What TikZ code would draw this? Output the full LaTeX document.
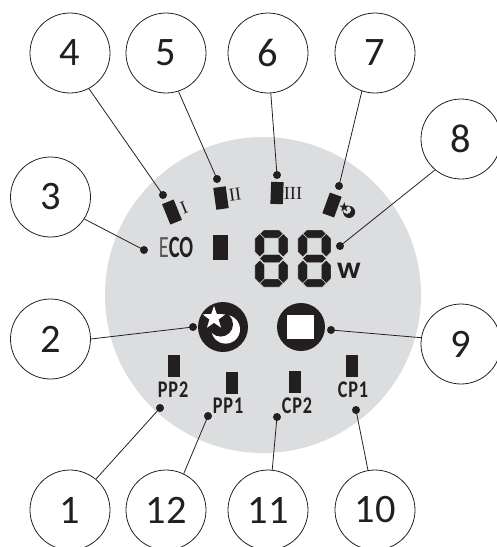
\documentclass[tikz,border=0pt]{standalone}
\usepackage{fontspec}
\setmainfont{Carlito}
\newfontfamily\labelfont[FakeStretch=0.76,LetterSpace=4]{Carlito}
\newfontfamily\ecofont[FakeStretch=0.66]{Carlito}
\newfontfamily\romanfont{Liberation Serif}
\usetikzlibrary{calc}
\definecolor{ink}{RGB}{35,31,32}
\definecolor{panel}{RGB}{220,221,223}
\tikzset{
  num/.style={circle,draw=ink,line width=0.45pt,minimum size=16mm,inner sep=0pt,
    text=ink,font=\fontsize{23}{26}\selectfont},
  dot/.style={circle,fill=ink,minimum size=1.6mm,inner sep=0pt},
  lead/.style={draw=ink,line width=0.45pt},
  bar/.style={fill=ink,minimum width=2.5mm,minimum height=4.4mm,inner sep=0pt},
  tag/.style={text=ink,inner sep=0pt,font=\labelfont\bfseries\fontsize{13.6}{15}\selectfont},
  speed/.style={text=ink,inner sep=0pt,font=\romanfont\fontsize{10.5}{12}\selectfont},
  % pictograms
  pics/seg/.style={code={
    \foreach \y in {0,24.5,49}
      \filldraw[fill=ink,draw=panel,line width=0.25pt] (4.5,\y+4) -- (8.5,\y) -- (24.5,\y) -- (28.5,\y+4) -- (24.5,\y+8) -- (8.5,\y+8) -- cycle;
    \foreach \x in {0,23.5} \foreach \y in {3.5,30}
      \filldraw[fill=ink,draw=panel,line width=0.25pt] (\x+4.75,\y) -- (\x+9.5,\y+4.75) -- (\x+9.5,\y+18.75) -- (\x+4.75,\y+23.5) -- (\x,\y+18.75) -- (\x,\y+4.75) -- cycle;
  }},
  pics/moonstar/.style n args={3}{code={
    \fill[#1] (2.7,2.3) circle (14.3);
    \fill[#2] (-2.3,-2.7) circle (#3);
    \begin{scope}[shift={(-9,-9)}]
      \fill[#1] (-90:12) -- (-54:4.8) -- (-18:12) -- (18:4.8) -- (54:12) -- (90:4.8) -- (126:12) -- (162:4.8) -- (198:12) -- (234:4.8) -- cycle;
    \end{scope}
  }},
}
\begin{document}
\begin{tikzpicture}[x=0.2mm,y=-0.2mm]
    \clip (0,0) rectangle (497,547);
    \fill[panel] (263,295) circle (158);
    % numbered circles
    \foreach \n/\x/\y in {1/70/510,2/50.5/339,3/50.5/197,4/70/53,5/166/53,6/268/53,
      7/375/53,8/461/139,9/461/344,10/375/510,11/268/510,12/166/510}
      \node[num] (c\n) at (\x,\y) {\n};
    % leader lines
    \foreach \n/\x/\y/\a in {1/160/408/50,2/193/327/0,3/144/250/327,4/163/195/298,5/217/179/288,
      6/277/175/274,7/339/186/251,8/340/246/230,9/331/330/171,10/356/410/100,11/277/417/84,12/208/416/64}
    {
      \node[dot] (d\n) at (\x,\y) {};
      \draw[lead] (c\n.\a) -- (d\n.center);
    }
    % bars
    \foreach \n/\x/\y/\r in {fan1/172/212/22,fan2/221/198/8,fan3/277/193/-2,night/332/205/-20,
      pp2/174/366/0,pp1/232/383/0,cp2/295/382/0,cp1/352/366/0}
      \node[bar,rotate=\r] (b\n) at (\x,\y) {};
    \node[bar,minimum width=3mm,minimum height=5mm] (bmid) at (221,247) {};
    % texts
    \node[speed,rotate=22] (mfan1) at (184,208) {I};
    \node[speed,rotate=8] (mfan2) at (235,195) {II};
    \node[speed] (mfan3) at (293,193) {III};
    \foreach \n/\x/\y/\t in {pp2/173/390/PP2,pp1/228/406/PP1,cp2/297/406/CP2,cp1/353/390/CP1}
      \node[tag] (t\n) at (\x,\y) {\t};
    \node[text=ink,inner sep=0pt,font=\ecofont\fontsize{17.6}{20}\selectfont] (eco) at (176,247) {{\color{ink!75}E}\textbf{CO}};
    \node[text=ink,inner sep=0pt,font=\bfseries\fontsize{18}{20}\selectfont] (watt) at (349,271) {w};
    % display
    \pic at (255,230) {seg};
    \pic at (298,230) {seg};
    % buttons
    \fill[ink] (223,327) circle (25);
    \pic at (223,327) {moonstar={white}{ink}{12.3}};
    \pic[scale=0.42] at (348,211) {moonstar={ink}{panel}{9.5}};
    \fill[ink] (301,327) circle (24);
    \fill[white] (287.5,315) rectangle (314.5,339);
  \end{tikzpicture}
\end{document}
